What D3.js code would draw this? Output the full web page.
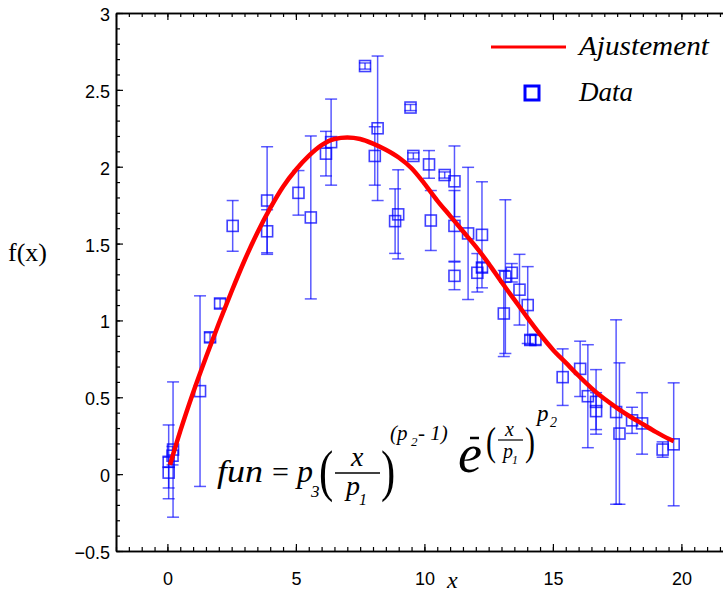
<!DOCTYPE html>
<html>
<head>
<meta charset="utf-8">
<script src="https://cdn.jsdelivr.net/npm/d3@7"></script>
<style>
  body { margin: 0; background: #fff; }
  svg { display: block; }
  .serif { font-family: "Liberation Serif", "Times New Roman", serif; }
  .it { font-style: italic; }
</style>
</head>
<body>
<svg id="chart" width="723" height="595"></svg>
<script>
/* measured points with their error half-widths */
const dataX = [0.05, 0.05, 0.22, 0.20, 1.27, 1.66, 2.05, 2.54, 3.88, 3.88,
               5.10, 5.58, 6.17, 6.37, 7.69, 8.18, 8.07, 9.46, 9.57, 10.18,
               10.25, 10.79, 11.17, 11.17, 11.17, 8.98, 8.86, 11.70, 12.24, 12.06,
               12.24, 13.15, 13.09, 13.40, 13.70, 14.02, 14.12, 14.32, 15.38, 16.06,
               16.36, 16.68, 16.68, 17.46, 17.59, 18.08, 18.47, 19.27, 19.70];
const dataY = [0.08, 0.01, 0.16, 0.12, 0.54, 0.89, 1.11, 1.615, 1.78, 1.58,
               1.83, 1.67, 2.085, 2.16, 2.655, 2.25, 2.07, 2.385, 2.07, 2.015,
               1.65, 1.946, 1.905, 1.615, 1.29, 1.69, 1.646, 1.566, 1.557, 1.31,
               1.344, 1.285, 1.045, 1.31, 1.20, 1.10, 0.873, 0.873, 0.631, 0.685,
               0.507, 0.47, 0.41, 0.404, 0.264, 0.35, 0.33, 0.16, 0.194];
const dataErr = [0.24, 0.10, 0.44, 0.06, 0.62, 0.03, 0.03, 0.165, 0.35, 0.14,
                 0.145, 0.53, 0.145, 0.28, 0.02, 0.47, 0.19, 0.02, 0.02, 0.09,
                 0.195, 0.02, 0.23, 0.23, 0.09, 0.29, 0.21, 0.43, 0.345, 0.125,
                 0.03, 0.50, 0.28, 0.06, 0.23, 0.25, 0.03, 0.03, 0.184, 0.18,
                 0.335, 0.21, 0.12, 0.60, 0.46, 0.085, 0.20, 0.05, 0.40];

/* fitted curve */
const fitX = [0.1, 0.5, 1.0, 1.5, 2.0, 2.5, 3.0, 3.5, 4.0, 4.5, 5.0, 5.5, 6.0, 6.5, 7.0,
              7.5, 8.0, 8.5, 9.0, 9.5, 10.0, 10.5, 11.0, 11.5, 12.0, 12.5, 13.0, 13.5,
              14.0, 14.5, 15.0, 15.5, 16.0, 16.5, 17.0, 17.5, 18.0, 18.5, 19.0, 19.5, 19.7];
const fitY = [0.06, 0.28, 0.53, 0.76, 0.98, 1.19, 1.39, 1.57, 1.73, 1.87, 1.98, 2.07, 2.14, 2.18, 2.19,
              2.18, 2.15, 2.11, 2.06, 1.99, 1.89, 1.78, 1.68, 1.58, 1.48, 1.37, 1.25, 1.135,
              1.02, 0.91, 0.81, 0.725, 0.64, 0.56, 0.49, 0.43, 0.375, 0.325, 0.275, 0.23, 0.215];

const xMajor = [0, 5, 10, 15, 20];
const yMajor = [-0.5, 0, 0.5, 1, 1.5, 2, 2.5, 3];
const legendLabels = ["Ajustement", "Data"];

const SERIF = '"Liberation Serif", "Times New Roman", serif';

const svg = d3.select('#chart');
const x = d3.scaleLinear().domain([-2, 22]).range([116, 732.8]);
const y = d3.scaleLinear().domain([-0.5, 3]).range([551, 13]);

const xMinor = d3.range(-2, 22.01, 0.5);
const yMinor = d3.range(-0.5, 3.001, 0.1);

function styleAxis(g) {
    g.select('.domain').attr('stroke', '#000').attr('stroke-width', 1.6);
    g.selectAll('.tick line').attr('stroke', '#000').attr('stroke-width', 1.2);
    g.selectAll('.tick text')
        .attr('fill', '#000')
        .style('font-family', '"Liberation Sans", Arial, sans-serif')
        .style('font-size', '18px');
}

// bottom axis (ticks inward)
svg.append('g').attr('transform', `translate(0,${y(-0.5)})`)
    .call(d3.axisBottom(x).tickValues(xMinor).tickSize(-4).tickSizeOuter(0).tickFormat(''))
    .call(styleAxis);
svg.append('g').attr('transform', `translate(0,${y(-0.5)})`)
    .call(d3.axisBottom(x).tickValues(xMajor).tickSize(-7).tickSizeOuter(0).tickPadding(21)
        .tickFormat(d3.format('d')))
    .call(styleAxis);

// top frame
svg.append('g').attr('transform', `translate(0,${y(3)})`)
    .call(d3.axisTop(x).tickValues(xMinor).tickSize(-4).tickSizeOuter(0).tickFormat(''))
    .call(styleAxis);
svg.append('g').attr('transform', `translate(0,${y(3)})`)
    .call(d3.axisTop(x).tickValues(xMajor).tickSize(-7).tickSizeOuter(0).tickFormat(''))
    .call(styleAxis);

// left axis
svg.append('g').attr('transform', `translate(${x(-2)},0)`)
    .call(d3.axisLeft(y).tickValues(yMinor).tickSize(-4).tickSizeOuter(0).tickFormat(''))
    .call(styleAxis);
svg.append('g').attr('transform', `translate(${x(-2)},0)`)
    .call(d3.axisLeft(y).tickValues(yMajor).tickSize(-7).tickSizeOuter(0).tickPadding(6)
        .tickFormat(d => d < 0 ? '\u2212' + Math.abs(d) : String(d)))
    .call(styleAxis)
    .selectAll('.tick text').attr('dy', '0.42em');

// error bars
const pts = dataX.map((d, i) => ({x: d, y: dataY[i], e: dataErr[i]}));
const bars = svg.append('g')
    .attr('stroke', '#0000ff')
    .attr('stroke-opacity', 0.65)
    .attr('stroke-width', 1.5)
    .attr('fill', 'none');
bars.selectAll('line.v').data(pts).join('line').attr('class', 'v')
    .attr('x1', d => x(d.x)).attr('x2', d => x(d.x))
    .attr('y1', d => y(d.y + d.e)).attr('y2', d => y(d.y - d.e));
bars.selectAll('line.t').data(pts).join('line').attr('class', 't')
    .attr('x1', d => x(d.x) - 6).attr('x2', d => x(d.x) + 6)
    .attr('y1', d => y(d.y + d.e)).attr('y2', d => y(d.y + d.e));
bars.selectAll('line.b').data(pts).join('line').attr('class', 'b')
    .attr('x1', d => x(d.x) - 6).attr('x2', d => x(d.x) + 6)
    .attr('y1', d => y(d.y - d.e)).attr('y2', d => y(d.y - d.e));

// squares
const SQ = 11;
svg.append('g').selectAll('rect').data(pts).join('rect')
    .attr('x', d => x(d.x) - SQ / 2)
    .attr('y', d => y(d.y) - SQ / 2)
    .attr('width', SQ).attr('height', SQ)
    .attr('fill', 'none')
    .attr('stroke', '#0000ff')
    .attr('stroke-opacity', 0.75)
    .attr('stroke-width', 1.6);

// fitted curve on top
const fit = fitX.map((d, i) => [d, fitY[i]]);
svg.append('path').datum(fit)
    .attr('fill', 'none')
    .attr('stroke', '#ff0000')
    .attr('stroke-width', 4.5)
    .attr('stroke-linejoin', 'round')
    .attr('d', d3.line().x(d => x(d[0])).y(d => y(d[1])).curve(d3.curveMonotoneX));

// legend
const legend = svg.append('g');
legend.append('line').attr('x1', 491).attr('x2', 566).attr('y1', 47).attr('y2', 47)
    .attr('stroke', '#ff0000').attr('stroke-width', 3);
legend.append('rect').attr('x', 525).attr('y', 86).attr('width', 14).attr('height', 14)
    .attr('fill', 'none').attr('stroke', '#0000ff').attr('stroke-width', 3);
legend.selectAll('text').data(legendLabels).join('text')
    .style('font-family', SERIF).style('font-style', 'italic')
    .attr('x', 579)
    .attr('y', (d, i) => 55 + i * 46)
    .attr('font-size', 27)
    .attr('textLength', (d, i) => i === 0 ? 130 : 54)
    .attr('lengthAdjust', 'spacingAndGlyphs')
    .text(d => d);

// axis titles
svg.append('text').style('font-family', SERIF).attr('x', 8).attr('y', 261)
    .attr('font-size', 26).text('f(x)');
svg.append('text').style('font-family', SERIF).style('font-style', 'italic')
    .attr('x', 447).attr('y', 588).attr('font-size', 24).text('x');

// formula
const f = svg.append('g').attr('fill', '#000');
function t(str, px, py, size, italic, sx) {
    return f.append('text')
        .attr('transform', `translate(${px},${py}) scale(${sx || 1},1)`)
        .style('font-family', SERIF)
        .style('font-style', italic ? 'italic' : 'normal')
        .style('font-size', size + 'px')
        .text(str);
}
t('fun', 217, 482, 32, true).attr('textLength', 46).attr('lengthAdjust', 'spacingAndGlyphs');
t('=', 272, 482, 30, false);
t('p', 297, 482, 32, true);
t('3', 311, 497, 17, true);
t('(', 319, 490, 57, false, 0.75);
t('x', 351, 466, 28, true);
f.append('line').attr('x1', 335).attr('x2', 380).attr('y1', 473).attr('y2', 473)
    .attr('stroke', '#000').attr('stroke-width', 1.5);
t('p', 346, 495, 28, true);
t('1', 359, 505, 16, true);
t(')', 381, 490, 57, false, 0.75);
t('(p', 390, 440, 21, true);
t('2', 411, 446, 13, true);
t('- 1)', 418, 440, 21, true);
t('e', 458, 472, 54, true);
f.append('line').attr('x1', 470).attr('x2', 479).attr('y1', 438).attr('y2', 438)
    .attr('stroke', '#000').attr('stroke-width', 2.5);
t('(', 486, 455, 40, false, 0.75);
t('x', 505, 436, 20, true);
f.append('line').attr('x1', 498).attr('x2', 523).attr('y1', 440).attr('y2', 440)
    .attr('stroke', '#000').attr('stroke-width', 1.2);
t('p', 503, 458, 20, true);
t('1', 512, 464, 12, true);
t(')', 525, 455, 40, false, 0.75);
t('p', 537, 421, 23, true);
t('2', 550, 427, 14, true);
</script>
</body>
</html>
